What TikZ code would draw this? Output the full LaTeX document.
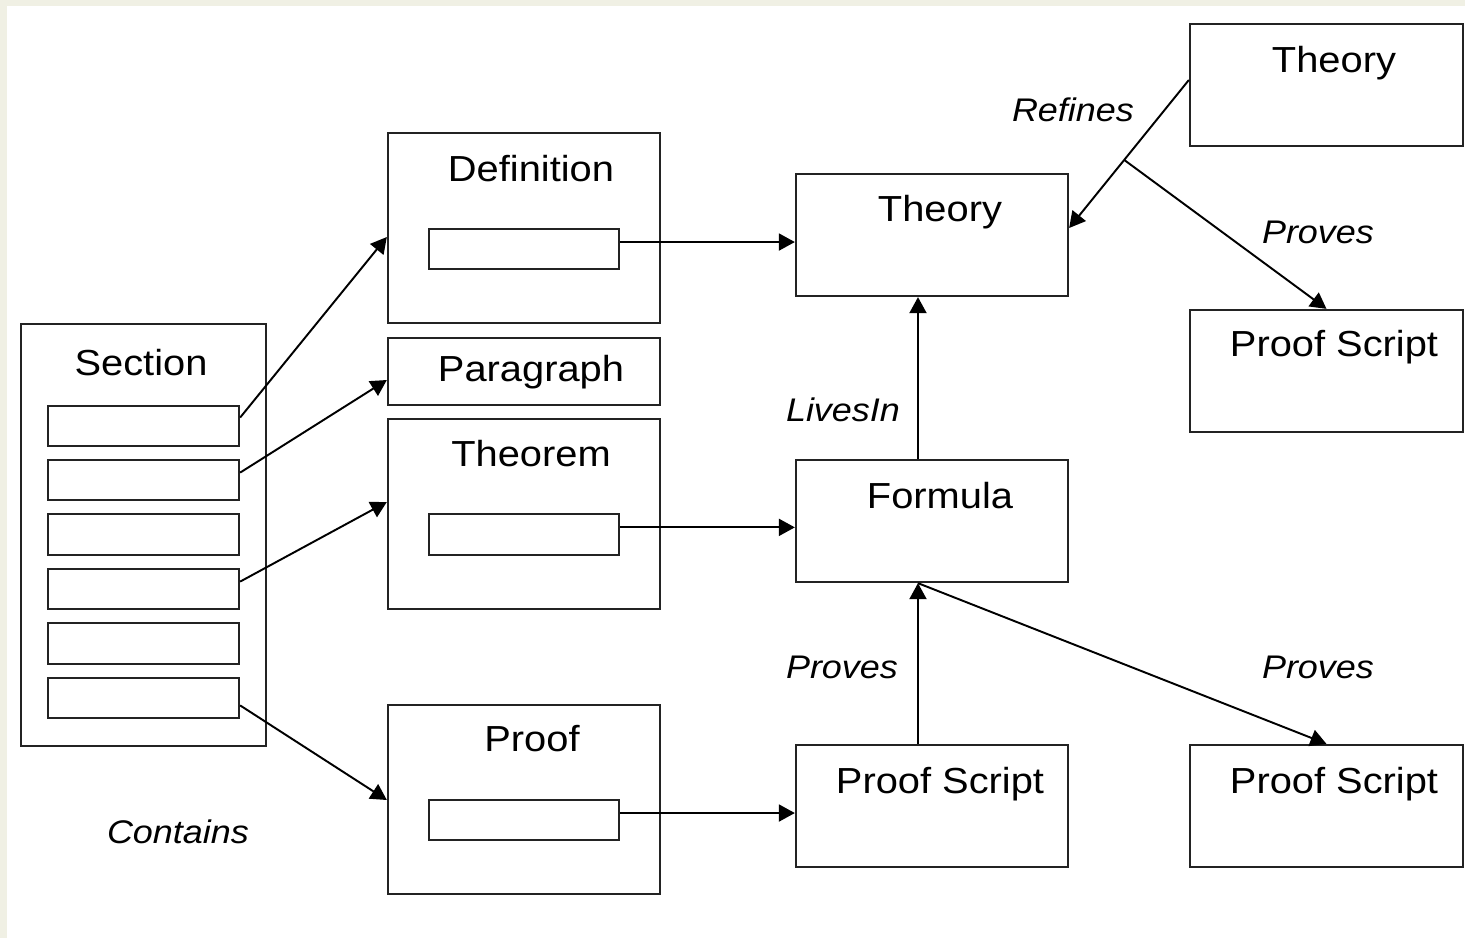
\documentclass[tikz,border=0pt]{standalone}
\usepackage{fontspec}
\setmainfont{Liberation Sans}
\newfontfamily\labfont[FakeStretch=1.1]{Liberation Sans}
\usetikzlibrary{arrows.meta,fit,calc}
\definecolor{pagebg}{RGB}{240,240,228}
\definecolor{boxline}{RGB}{35,35,35}
\begin{document}
\begin{tikzpicture}[x=0.01cm,y=-0.01cm,
  box/.style={draw=boxline, line width=0.65pt, inner sep=0pt, fill=white},
  lab/.style={font=\labfont\fontsize{10.3}{12}\selectfont, anchor=base, inner sep=0pt},
  rel/.style={font=\labfont\itshape\fontsize{9.3}{11}\selectfont, anchor=base, inner sep=0pt},
  conn/.style={line width=0.55pt, -{Triangle[length=0.16cm,width=0.17cm]}}]
\fill[pagebg] (0,0) rectangle (1465,938);
\fill[white] (7,6) rectangle (1465,938);
\useasboundingbox (0,0) rectangle (1465,938);

% Section
\node[box, fit={(21,324)(266,746)}] (sec) {};
\node[box, fit={(48,406)(239,446)}] (s1) {};
\node[box, fit={(48,460)(239,500)}] (s2) {};
\node[box, fit={(48,514)(239,555)}] (s3) {};
\node[box, fit={(48,569)(239,609)}] (s4) {};
\node[box, fit={(48,623)(239,664)}] (s5) {};
\node[box, fit={(48,678)(239,718)}] (s6) {};
\node[lab] (seclab) at (141,375) {Section};

% middle column
\node[box, fit={(388,133)(660,323)}] (def) {};
\node[box, fit={(429,229)(619,269)}] (di) {};
\node[lab] (deflab) at (531,181) {Definition};
\node[box, fit={(388,338)(660,405)}] (para) {};
\node[lab] (paralab) at (531,381) {Paragraph};
\node[box, fit={(388,419)(660,609)}] (thm) {};
\node[box, fit={(429,514)(619,555)}] (ti) {};
\node[lab] (thmlab) at (531,466) {Theorem};
\node[box, fit={(388,705)(660,894)}] (prf) {};
\node[box, fit={(429,800)(619,840)}] (pi) {};
\node[lab] (prflab) at (532,751) {Proof};

% right-middle column
\node[box, fit={(796,174)(1068,296)}] (th) {};
\node[lab] (thlab) at (940,221) {Theory};
\node[box, fit={(796,460)(1068,582)}] (fo) {};
\node[lab] (folab) at (940,508) {Formula};
\node[box, fit={(796,745)(1068,867)}] (ps) {};
\node[lab] (pslab) at (940,793) {Proof Script};

% right column
\node[box, fit={(1190,24)(1463,146)}] (tht) {};
\node[lab] (thtlab) at (1334,72) {Theory};
\node[box, fit={(1190,310)(1463,432)}] (psa) {};
\node[lab] (psalab) at (1334,356) {Proof Script};
\node[box, fit={(1190,745)(1463,867)}] (psb) {};
\node[lab] (psblab) at (1334,793) {Proof Script};

% relation labels
\node[rel] (lref) at (1073,121) {Refines};
\node[rel] (lpr1) at (1318,243) {Proves};
\node[rel] (lliv) at (843,421) {LivesIn};
\node[rel] (lpr2) at (842,678) {Proves};
\node[rel] (lpr3) at (1318,678) {Proves};
\node[rel] (lcon) at (178,843) {Contains};

% contains arrows
\draw[conn] ($(s1.east)!0.4!(s1.north east)$) -- (def.west |- 0,237);
\draw[conn] ($(s2.east)!0.35!(s2.north east)$) -- (para.west |- 0,380);
\draw[conn] ($(s4.east)!0.35!(s4.north east)$) -- (thm.west |- 0,502);
\draw[conn] ($(s6.east)!0.35!(s6.south east)$) -- (prf.west |- 0,800);

% inner boxes to right
\coordinate (a1) at ($(di.east)!0.33!(di.north east)$);
\draw[conn] (a1) -- (a1 -| th.west);
\coordinate (a2) at ($(ti.east)!0.33!(ti.north east)$);
\draw[conn] (a2) -- (a2 -| fo.west);
\coordinate (a3) at ($(pi.east)!0.33!(pi.north east)$);
\draw[conn] (a3) -- (a3 -| ps.west);

% vertical
\draw[conn] (fo.north -| 918,0) -- (th.south -| 918,0);
\draw[conn] (ps.north -| 918,0) -- (fo.south -| 918,0);
\draw[conn] (fo.south -| 918,0) -- (psb.north);

% refines / proves
\coordinate (rs) at (tht.west |- 0,80);
\coordinate (rt) at (th.east |- 0,228);
\draw[conn] (rs) -- (rt);
\coordinate (br) at ($(rs)!0.54!(rt)$);
\draw[conn] (br) -- (psa.north);
\end{tikzpicture}
\end{document}
